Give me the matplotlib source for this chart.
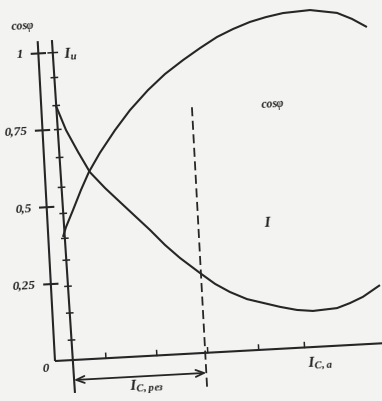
import numpy as np
import matplotlib.pyplot as plt
from matplotlib.transforms import Affine2D

plt.rcParams['font.family'] = ['Liberation Serif', 'DejaVu Serif']
plt.rcParams['mathtext.fontset'] = 'custom'
plt.rcParams['mathtext.it'] = 'Liberation Serif:italic:bold'
plt.rcParams['mathtext.rm'] = 'Liberation Serif:bold'
plt.rcParams['mathtext.bf'] = 'Liberation Serif:bold'

# кривая cos(phi) в зависимости от тока конденсатора
ic_cos = [0.288, 0.357, 0.512, 0.69, 0.865, 1.10, 1.42, 1.733, 2.108, 2.457, 2.825,
          3.171, 3.515, 3.837, 4.176, 4.496, 4.833, 5.365, 5.89, 6.176, 6.461]
cos_phi = [0.401, 0.432, 0.486, 0.55, 0.607, 0.667, 0.738, 0.80, 0.862, 0.911, 0.953,
           0.989, 1.022, 1.045, 1.065, 1.078, 1.088, 1.093, 1.079, 1.057, 1.028]

# общий ток цепи I
ic_i = [0.29, 0.375, 0.46, 0.672, 0.884, 1.163, 1.441, 1.72, 2.0, 2.276, 2.557, 2.931,
        3.215, 3.498, 3.824, 4.133, 4.463, 4.792, 5.104, 5.578, 5.837, 6.098, 6.443]
i_total = [0.827, 0.787, 0.747, 0.674, 0.606, 0.552, 0.504, 0.456, 0.408, 0.357, 0.312,
           0.26, 0.222, 0.193, 0.167, 0.152, 0.136, 0.123, 0.117, 0.122, 0.136, 0.154, 0.189]

# деления осей
cos_ticks = [0.25, 0.5, 0.75, 1.0]
cos_labels = ['0,25', '0,5', '0,75', '1']
iu_ticks = [0.065, 0.153, 0.24, 0.325, 0.396, 0.477, 0.562, 0.659, 0.75, 0.828, 0.919, 1.0]
ic_ticks = [1, 2, 3, 4, 4.9]
ic_res = 2.95

TILT = 3.1          # скан немного повернут
PX_X, PX_Y = 51, 308
ORIGIN = (55, 40)
W, H = 382, 401
paper = '#f3f3f2'
ink = '#262626'

fig = plt.figure(figsize=(W / 100, H / 100), dpi=100, facecolor=paper)
ax = fig.add_axes([0, 0, 1, 1])
ax.set_xlim(-ORIGIN[0] / PX_X, (W - ORIGIN[0]) / PX_X)
ax.set_ylim(-ORIGIN[1] / PX_Y, (H - ORIGIN[1]) / PX_Y)
ax.set_autoscale_on(False)
ax.axis('off')

ox, oy = ax.transData.transform((0, 0))
tr = ax.transData + Affine2D().rotate_deg_around(ox, oy, TILT)

line = dict(color=ink, lw=1.5, transform=tr, solid_capstyle='butt', clip_on=False)
font = dict(color=ink, fontweight='bold', fontstyle='italic', transform=tr,
            rotation=TILT, rotation_mode='anchor')

# оси
ax.plot([0, 0], [0, 1.04], **line)
ax.plot([0, 6.6], [0, 0], **line)
iu_x = [0.357, 0.28]
iu_y = [-0.107, 1.041]
ax.plot(iu_x, iu_y, **line)

for v, lab in zip(cos_ticks, cos_labels):
    ax.plot([-0.15, 0.15], [v, v], **line)
    ax.text(-0.3, v, lab, ha='right', va='center', fontsize=9.5, **font)
ax.text(-0.2, -0.025, '0', ha='center', va='center', fontsize=9.5, **font)

for v in iu_ticks:
    x = np.interp(v, iu_y, iu_x)
    half = 0.09 if v == 1.0 else 0.06
    ax.plot([x - half, x + half], [v, v], color=ink, lw=1.1, transform=tr)

for t in ic_ticks:
    ax.plot([t, t], [0, 0.016], color=ink, lw=1.1, transform=tr)

# кривые
ax.plot(ic_cos, cos_phi, **line)
ax.plot(ic_i, i_total, **line)

# резонанс
ax.plot([ic_res, ic_res], [-0.11, 0.81], color=ink, lw=1.3, ls=(0, (5, 2.5)),
        transform=tr)
ax.annotate('', xy=(ic_res, -0.065), xytext=(0.35, -0.065), xycoords=tr, textcoords=tr,
            arrowprops=dict(arrowstyle='<->,head_length=0.6,head_width=0.25',
                            color=ink, lw=1.3, shrinkA=0, shrinkB=0))

# подписи
ax.text(-0.27, 1.085, r'cos$\varphi$', ha='center', va='center', fontsize=8.5, **font)
ax.text(0.62, 0.99, r'$I_{и}$', ha='center', va='center', fontsize=11, **font)
ax.text(4.54, 0.79, r'cos$\varphi$', ha='center', va='center', fontsize=8.5, **font)
ax.text(4.32, 0.41, r'$I$', ha='center', va='center', fontsize=11, **font)
ax.text(5.19, -0.053, r'$I_{C,\,а}$', ha='center', va='center', fontsize=11, **font)
ax.text(1.77, -0.1, r'$I_{C,\,рез}$', ha='center', va='center', fontsize=11, **font)

fig.savefig('out.png', dpi=100, facecolor=paper)
